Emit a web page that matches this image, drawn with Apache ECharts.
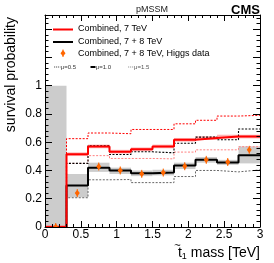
<!DOCTYPE html>
<html><head><meta charset="utf-8">
<script src="https://cdn.jsdelivr.net/npm/echarts@6/dist/echarts.min.js"></script>
<style>html,body{margin:0;padding:0;background:#fff}#c{width:274px;height:263px}</style>
</head><body><div id="c"></div>
<script>
// bin edges of the stop-mass histogram (TeV)
const binEdges = [0, 0.3, 0.6, 0.9, 1.2, 1.5, 1.8, 2.1, 2.4, 2.7, 3.0];
// Combined, 7 TeV (red)
const comb7 = [0, 0.515, 0.57, 0.533, 0.55, 0.57, 0.617, 0.629, 0.64, 0.64];
const comb7Mu05 = [0, 0.625, 0.665, 0.66, 0.69, 0.69, 0.73, 0.755, 0.785, 0.79];
const comb7Mu15 = [0, 0.45, 0.505, 0.485, 0.485, 0.482, 0.53, 0.546, 0.546, 0.568];
// Combined, 7 + 8 TeV (black)
const comb78 = [0, 0.293, 0.42, 0.40, 0.381, 0.385, 0.435, 0.475, 0.456, 0.508];
const comb78Mu05 = [0, 0.45, 0.575, 0.513, 0.532, 0.525, 0.593, 0.636, 0.617, 0.693];
const comb78Mu15 = [0, 0.207, 0.334, 0.336, 0.314, 0.314, 0.357, 0.40, 0.39, 0.404];
const comb78Lo = [0, 0.21, 0.39, 0.375, 0.36, 0.365, 0.41, 0.455, 0.44, 0.45];
const comb78Hi = [1, 0.375, 0.455, 0.42, 0.40, 0.405, 0.455, 0.495, 0.475, 0.57];
// Combined, 7 + 8 TeV, Higgs data (orange points)
const higgs = [0, 0.24, 0.428, 0.40, 0.376, 0.385, 0.43, 0.475, 0.46, 0.546];
// tick labels
const xTicks = [0, 0.5, 1, 1.5, 2, 2.5, 3];
const yTicks = [0, 0.2, 0.4, 0.6, 0.8, 1];

const FONT = 'Liberation Sans, Arial, sans-serif';
function stepData(v) {
  const d = v.map((y, i) => [binEdges[i], y]);
  d.push([binEdges[v.length], v[v.length - 1]]);
  return d;
}
function bandData(lo, hi) { return lo.map((l, i) => [binEdges[i], binEdges[i + 1], l, hi[i]]); }
const centers = binEdges.slice(0, -1).map((e, i) => (e + binEdges[i + 1]) / 2);

function bandSeries(data, fill, z) {
  return {
    type: 'custom', z: z, silent: true, clip: true,
    data: data, encode: { x: [0, 1], y: [2, 3] },
    renderItem: (params, api) => {
      const p0 = api.coord([api.value(0), api.value(3)]);
      const p1 = api.coord([api.value(1), api.value(2)]);
      return { type: 'rect', shape: { x: p0[0], y: p0[1], width: p1[0] - p0[0], height: p1[1] - p0[1] }, style: { fill: fill } };
    }
  };
}
function stepSeries(vals, color, width, dash, z) {
  return {
    type: 'line', step: 'end', data: stepData(vals), symbol: 'none', z: z, silent: true,
    lineStyle: { color: color, width: width, type: dash || 'solid' }, clip: true
  };
}

const pinkLo = comb7.map(v => v - 0.013), pinkHi = comb7.map(v => v + 0.013);

const chart = echarts.init(document.getElementById('c'), null, { renderer: 'canvas' });
const axisCommonX = {
  type: 'value', min: 0, max: 3, interval: 0.5, z: 20,
  axisLine: { show: true, onZero: false, lineStyle: { color: '#000', width: 1 } },
  axisTick: { show: true, inside: true, length: 6, lineStyle: { color: '#000' } },
  minorTick: { show: true, splitNumber: 5, length: 3, lineStyle: { color: '#000' } },
  splitLine: { show: false }
};
const axisCommonY = {
  type: 'value', min: 0, max: 1.5, interval: 0.2, z: 20,
  axisLine: { show: true, onZero: false, lineStyle: { color: '#000', width: 1 } },
  axisTick: { show: true, inside: true, length: 7, lineStyle: { color: '#000' } },
  minorTick: { show: true, splitNumber: 5, length: 3.5, lineStyle: { color: '#000' } },
  splitLine: { show: false }
};

const lg = [];
const lx0 = 53, lx1 = 73, tx = 78;
lg.push({ type: 'line', shape: { x1: lx0, y1: 29.5, x2: lx1, y2: 29.5 }, style: { stroke: '#ff0000', lineWidth: 2 } });
lg.push({ type: 'text', x: tx, y: 29, style: { text: 'Combined, 7 TeV', font: '9px ' + FONT, fill: '#000', verticalAlign: 'middle' } });
lg.push({ type: 'line', shape: { x1: lx0, y1: 42, x2: lx1, y2: 42 }, style: { stroke: '#000', lineWidth: 2 } });
lg.push({ type: 'text', x: tx, y: 42, style: { text: 'Combined, 7 + 8 TeV', font: '9px ' + FONT, fill: '#000', verticalAlign: 'middle' } });
lg.push({ type: 'line', shape: { x1: 63, y1: 49.5, x2: 63, y2: 57 }, style: { stroke: '#ff6600', lineWidth: 1 } });
lg.push({ type: 'polygon', shape: { points: [[63, 50], [65.5, 53.3], [63, 56.6], [60.5, 53.3]] }, style: { fill: '#ff6600' } });
lg.push({ type: 'text', x: tx, y: 53.5, style: { text: 'Combined, 7 + 8 TeV, Higgs data', font: '9px ' + FONT, fill: '#000', verticalAlign: 'middle' } });
lg.push({ type: 'line', shape: { x1: 54, y1: 67, x2: 60.5, y2: 67 }, style: { stroke: '#555', lineWidth: 1, lineDash: [1.2, 0.8] } });
lg.push({ type: 'text', x: 60.8, y: 67, style: { text: 'μ=0.5', font: '6px ' + FONT, fill: '#333', verticalAlign: 'middle' } });
lg.push({ type: 'line', shape: { x1: 90.5, y1: 67, x2: 95.5, y2: 67 }, style: { stroke: '#000', lineWidth: 2 } });
lg.push({ type: 'text', x: 95.8, y: 67, style: { text: 'μ=1.0', font: '6px ' + FONT, fill: '#333', verticalAlign: 'middle' } });
lg.push({ type: 'line', shape: { x1: 128, y1: 67, x2: 133.5, y2: 67 }, style: { stroke: '#999', lineWidth: 1, lineDash: [1.2, 0.8] } });
lg.push({ type: 'text', x: 134, y: 67, style: { text: 'μ=1.5', font: '6px ' + FONT, fill: '#555', verticalAlign: 'middle' } });

const option = {
  animation: false,
  backgroundColor: '#fff',
  grid: { left: 45, top: 15, width: 215, height: 212, containLabel: false },
  xAxis: [
    Object.assign({}, axisCommonX, {
      position: 'bottom',
      axisLabel: { show: true, fontFamily: FONT, fontSize: 12, color: '#000', margin: 2,
        formatter: v => (xTicks.some(t => Math.abs(t - v) < 1e-6) ? String(+v.toFixed(1)) : '') }
    }),
    Object.assign({}, axisCommonX, { position: 'top', axisLabel: { show: false } })
  ],
  yAxis: [
    Object.assign({}, axisCommonY, {
      position: 'left',
      axisLabel: { show: true, fontFamily: FONT, fontSize: 12, color: '#000', margin: 3,
        formatter: v => (yTicks.some(t => Math.abs(t - v) < 1e-6) ? String(+v.toFixed(1)) : '') }
    }),
    Object.assign({}, axisCommonY, { position: 'right', axisLabel: { show: false } })
  ],
  series: [
    bandSeries(bandData(comb78Lo, comb78Hi), '#cccccc', 1),
    bandSeries(bandData(pinkLo, pinkHi), 'rgba(255,90,90,0.45)', 2),
    stepSeries(comb78Mu15, '#666666', 1, [2, 1.5], 3),
    stepSeries(comb7Mu15, '#ff8080', 1, [2, 1.5], 3),
    stepSeries(comb78Mu05, '#000000', 1.1, [2, 1.5], 4),
    stepSeries(comb7Mu05, '#ff0000', 1, [2, 1.5], 4),
    stepSeries(comb78, '#000000', 2, null, 5),
    stepSeries(comb7, '#ff0000', 2, null, 6),
    {
      type: 'custom', z: 7, silent: true, clip: true,
      data: centers.map((c, i) => [c, higgs[i]]),
      renderItem: (params, api) => {
        const p = api.coord([api.value(0), api.value(1)]);
        return { type: 'group', children: [
          { type: 'line', shape: { x1: p[0], y1: p[1] - 4, x2: p[0], y2: p[1] + 4 }, style: { stroke: '#ff6600', lineWidth: 1 } },
          { type: 'polygon', shape: { points: [[p[0], p[1] - 3.4], [p[0] + 2.5, p[1]], [p[0], p[1] + 3.4], [p[0] - 2.5, p[1]]] }, style: { fill: '#ff6600' } }
        ] };
      }
    }
  ],
  graphic: [
    { type: 'text', x: 152, y: 10, style: { text: 'pMSSM', font: '9px ' + FONT, fill: '#222', align: 'center', verticalAlign: 'middle' } },
    { type: 'text', x: 260, y: 10, style: { text: 'CMS', font: 'bold 13px ' + FONT, fill: '#000', align: 'right', verticalAlign: 'middle' } },
    { type: 'text', x: 11, y: 17, rotation: Math.PI / 2, style: { text: 'survival probability', font: '14px ' + FONT, fill: '#000', align: 'right', verticalAlign: 'middle' } },
    { type: 'text', x: 260, y: 253, style: {
        text: '{t|t}{s|1}{n| mass [TeV]}', align: 'right', verticalAlign: 'middle',
        rich: { t: { font: '14px ' + FONT, fill: '#000' }, s: { font: '9px ' + FONT, fill: '#000', padding: [7, 0, 0, 0] }, n: { font: '14px ' + FONT, fill: '#000' } }
      } },
    { type: 'text', x: 177.5, y: 246.3, style: { text: '~', font: '11px ' + FONT, fill: '#000', align: 'center', verticalAlign: 'middle' } }
  ].concat(lg)
};
chart.setOption(option);
</script></body></html>
